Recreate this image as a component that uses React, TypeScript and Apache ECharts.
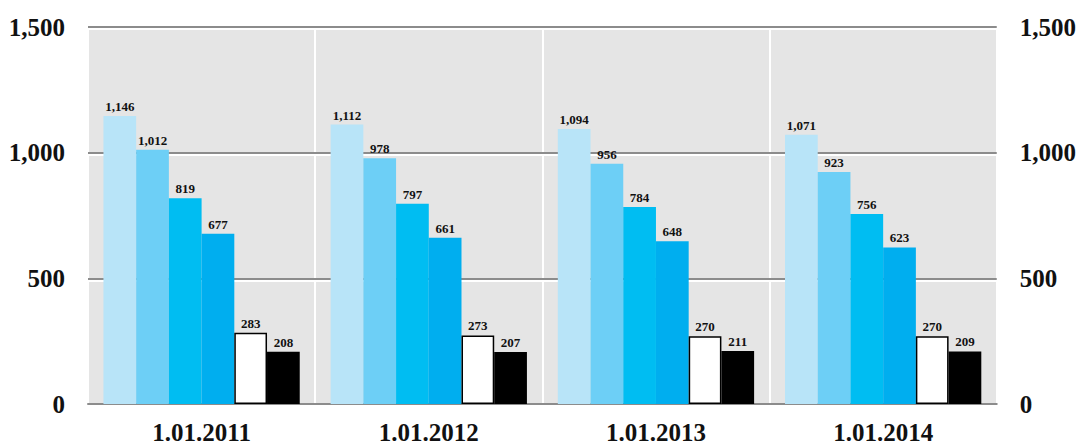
import React, { useEffect, useRef } from "react";
import * as echarts from "echarts";

const categories = ["1.01.2011", "1.01.2012", "1.01.2013", "1.01.2014"];
const series1 = [1146, 1112, 1094, 1071];
const series2 = [1012, 978, 956, 923];
const series3 = [819, 797, 784, 756];
const series4 = [677, 661, 648, 623];
const series5 = [283, 273, 270, 270];
const series6 = [208, 207, 211, 209];
const yTicks = { min: 0, max: 1500, interval: 500 };

const FONT = "'Liberation Serif', 'Times New Roman', serif";

const fmt = (v: number) => v.toLocaleString("en-US");

export default function App() {
  const ref = useRef<HTMLDivElement>(null);
  useEffect(() => {
    document.body.style.margin = "0";
    if (!ref.current) return;
    const chart = echarts.init(ref.current, null, { renderer: "svg" });
    const label = {
      show: true,
      position: "top" as const,
      distance: 3,
      fontFamily: FONT,
      fontWeight: "bold" as const,
      fontSize: 13,
      color: "#111",
      formatter: (p: any) => fmt(p.value),
    };
    const mk = (name: string, data: number[], itemStyle: any) => ({
      name,
      type: "bar" as const,
      data,
      xAxisIndex: 0,
      yAxisIndex: 0,
      barGap: "0%",
      barCategoryGap: "13.6%",
      itemStyle,
      label,
      z: 5,
    });
    const axisLabelY = {
      fontFamily: FONT,
      fontWeight: "bold" as const,
      fontSize: 25,
      color: "#111",
      formatter: (v: number) => fmt(v),
    };
    chart.setOption({
      animation: false,
      backgroundColor: "#ffffff",
      grid: [
        {
          left: 88,
          right: 82,
          top: 27,
          bottom: 42,
          show: true,
          backgroundColor: "#e5e5e5",
          borderWidth: 0,
        },
        {
          left: 88,
          right: 82,
          top: 29,
          bottom: 40,
          show: false,
        },
      ],
      xAxis: [
        {
          type: "category",
          data: categories,
          gridIndex: 0,
          axisTick: { show: false },
          axisLine: { show: true, lineStyle: { color: "#8c8c8c", width: 2 }, z: 10 },
          splitLine: { show: true, lineStyle: { color: "#ffffff", width: 2 } },
          axisLabel: {
            fontFamily: FONT,
            fontWeight: "bold",
            fontSize: 25,
            color: "#111",
            margin: 16,
          },
        },
        {
          type: "category",
          data: categories,
          gridIndex: 1,
          show: false,
        },
      ],
      yAxis: [
        {
          type: "value",
          ...yTicks,
          gridIndex: 0,
          position: "left",
          axisLine: { show: false },
          axisTick: { show: false },
          axisLabel: { ...axisLabelY, margin: 23 },
          splitLine: { show: true, lineStyle: { color: "#8c8c8c", width: 2 } },
          z: 3,
        },
        {
          type: "value",
          ...yTicks,
          gridIndex: 0,
          position: "right",
          axisLine: { show: false },
          axisTick: { show: false },
          axisLabel: { ...axisLabelY, margin: 23 },
          splitLine: { show: false },
        },
        {
          type: "value",
          ...yTicks,
          gridIndex: 1,
          axisLine: { show: false },
          axisTick: { show: false },
          axisLabel: { show: false },
          splitLine: { show: true, lineStyle: { color: "#ffffff", width: 2 } },
          z: 2,
        },
      ],
      series: [
        mk("Series 1", series1, { color: "#b8e4f8" }),
        mk("Series 2", series2, { color: "#6dcff6" }),
        mk("Series 3", series3, { color: "#00bdf2" }),
        mk("Series 4", series4, { color: "#00aeef" }),
        mk("Series 5", series5, { color: "#ffffff", borderColor: "#000000", borderWidth: 1.5 }),
        mk("Series 6", series6, { color: "#000000" }),
      ],
    });
    return () => chart.dispose();
  }, []);
  return (
    <div
      ref={ref}
      style={{ position: "absolute", left: 0, top: 0, width: 1079, height: 446 }}
    />
  );
}
